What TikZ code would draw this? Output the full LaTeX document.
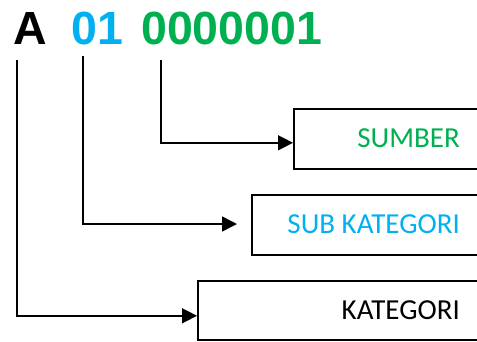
\documentclass[tikz,border=0pt]{standalone}
\usepackage{fontspec}
\setmainfont{Liberation Sans}
\newfontfamily\boxfont{Carlito}
\usetikzlibrary{arrows.meta}
\definecolor{cgreen}{HTML}{00B050}
\definecolor{cblue}{HTML}{00B0F0}
\begin{document}
\begin{tikzpicture}[x=1pt,y=-1pt,
  code/.style={inner sep=0pt,anchor=base west,font=\fontsize{46.5}{46.5}\selectfont\bfseries},
  fieldbox/.style={draw=black,line width=1.6pt,anchor=north west,inner sep=0pt},
  fieldtext/.style={inner sep=0pt,anchor=base east,font=\boxfont\fontsize{29}{29}\selectfont},
  arr/.style={line width=1.5pt,-{Triangle[length=15pt,width=15pt]}}]
\useasboundingbox (0,0) rectangle (477,341);
\clip (0,0) rectangle (477,341);
% title code
\node[code] (A) at (13,44) {A};
\node[code,text=cblue] (sub) at (71,44) {01};
\node[code,text=cgreen] (src) at (141,44) {0000001};
% boxes
\node[fieldbox,minimum width=200pt,minimum height=60pt] (bsumber) at (293,108) {};
\node[fieldbox,minimum width=240pt,minimum height=60pt] (bsub) at (251,194) {};
\node[fieldbox,minimum width=290pt,minimum height=59pt] (bkat) at (197,280) {};
% texts
\node[fieldtext,text=cgreen] (tsumber) at (460,147) {SUMBER};
\node[fieldtext,text=cblue] (tsub) at (460,233) {SUB KATEGORI};
\node[fieldtext] (tkat) at (460,319) {KATEGORI};
% connectors
\coordinate (c1) at (161,60);
\coordinate (c2) at (83,56);
\coordinate (c3) at (17,60);
\coordinate (e2) at (237,224);
\draw[arr] (c1) |- ([yshift=-4pt]bsumber.west);
\draw[arr] (c2) |- (e2);
\draw[arr] (c3) |- ([yshift=-5.5pt]bkat.west);
\end{tikzpicture}
\end{document}
